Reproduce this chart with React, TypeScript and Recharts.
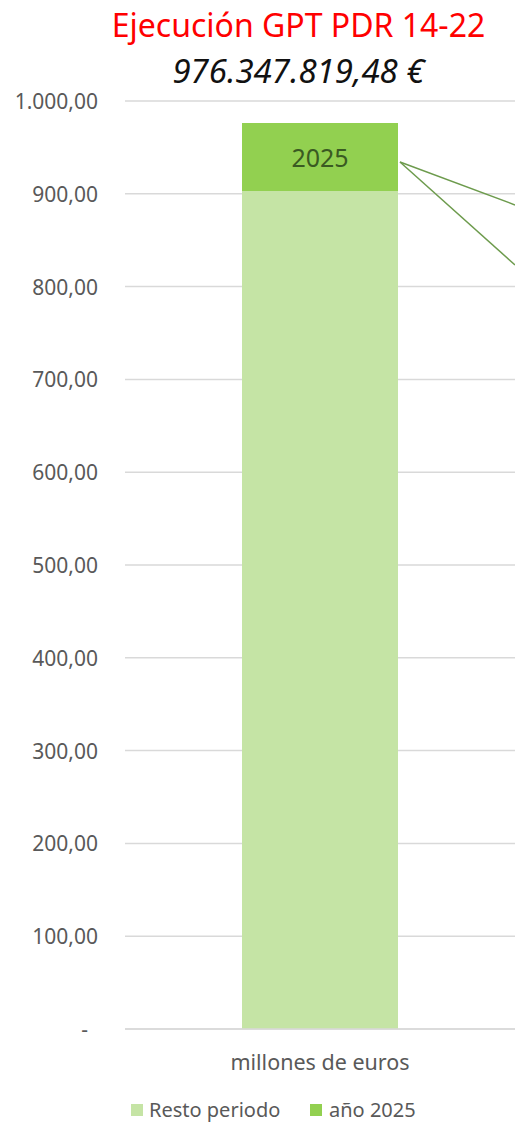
import React from "react";
import { BarChart, Bar, XAxis, YAxis, CartesianGrid, LabelList } from "recharts";

const categories = ["millones de euros"];
const restoPeriodo = [903.1];
const anio2025 = [73.25];
const yTicks = [0, 100, 200, 300, 400, 500, 600, 700, 800, 900, 1000];
const titulo = "Ejecución GPT PDR 14-22";
const total = "976.347.819,48 €";
const labelAnio = "2025";
const leyenda = ["Resto periodo", "año 2025"];

const FONT = "'Noto Sans', 'Open Sans', sans-serif";
const GRIS = "#595959";
const VERDE_CLARO = "#c5e4a5";
const VERDE = "#92d050";

const data = categories.map((c, i) => ({
  name: c,
  resto: restoPeriodo[i],
  anio: anio2025[i],
}));

const fmt = (v: number) => {
  if (v === 0) return "-";
  const [ent, dec] = v.toFixed(2).split(".");
  return ent.replace(/\B(?=(\d{3})+(?!\d))/g, ".") + "," + dec;
};

const YTick = (props: any) => {
  const { y, payload } = props;
  // el cero se muestra como "-" un poco más a la izquierda (formato contable)
  const x = payload.value === 0 ? 88 : 98;
  return (
    <text x={x} y={y} dy={8} textAnchor="end" fill={GRIS} fontSize={21} fontFamily={FONT}>
      {fmt(payload.value)}
    </text>
  );
};

const XTick = (props: any) => {
  const { x, y, payload } = props;
  return (
    <text x={x} y={y} dy={33} textAnchor="middle" fill={GRIS} fontSize={21.5} fontFamily={FONT}>
      {payload.value}
    </text>
  );
};

// etiqueta del segmento 2025 con las líneas guía hacia la derecha
const AnioLabel = (props: any) => {
  const { x, y, width, height } = props;
  const sx = x + width + 2;
  const sy = y + height / 2 + 5;
  return (
    <g>
      <text x={x + width / 2} y={y + height / 2} dy={10} textAnchor="middle" fill="#3a5a22" fontSize={25} fontFamily={FONT}>
        {labelAnio}
      </text>
      <line x1={sx} y1={sy} x2={sx + 115} y2={sy + 43} stroke="#6d9b4d" strokeWidth={1.5} />
      <line x1={sx} y1={sy} x2={sx + 115} y2={sy + 103} stroke="#6d9b4d" strokeWidth={1.5} />
    </g>
  );
};

export default function App() {
  return (
    <div style={{ position: "absolute", left: 0, top: 0, width: 515, height: 1122, background: "#fff", overflow: "hidden" }}>
      <div style={{ position: "absolute", top: 0, left: 0, width: 597, textAlign: "center", color: "#ff0000", fontFamily: FONT, fontSize: 32, lineHeight: "50px", whiteSpace: "nowrap" }}>
        {titulo}
      </div>
      <div style={{ position: "absolute", top: 46, left: 0, width: 597, textAlign: "center", color: "#111", fontFamily: FONT, fontSize: 33, fontStyle: "italic", lineHeight: "50px", whiteSpace: "nowrap" }}>
        {total}
      </div>
      <BarChart width={515} height={1122} data={data} margin={{ top: 101, right: 0, bottom: 0, left: 0 }} barSize={156}>
        <CartesianGrid vertical={false} stroke="#d9d9d9" strokeWidth={1.5} />
        <XAxis dataKey="name" tick={<XTick />} axisLine={{ stroke: "#d9d9d9", strokeWidth: 1.5 }} tickLine={false} height={93} />
        <YAxis width={125} domain={[0, 1000]} ticks={yTicks} interval={0} tick={<YTick />} axisLine={false} tickLine={false} />
        <Bar dataKey="resto" stackId="a" fill={VERDE_CLARO} isAnimationActive={false} />
        <Bar dataKey="anio" stackId="a" fill={VERDE} isAnimationActive={false}>
          <LabelList dataKey="anio" content={<AnioLabel />} />
        </Bar>
      </BarChart>
      <div style={{ position: "absolute", top: 1096, left: 131, display: "flex", fontFamily: FONT, fontSize: 20, color: GRIS, lineHeight: "28px", whiteSpace: "nowrap" }}>
        <span style={{ display: "flex", alignItems: "center", width: 179 }}>
          <span style={{ width: 12, height: 12, background: VERDE_CLARO, marginRight: 6 }} />
          {leyenda[0]}
        </span>
        <span style={{ display: "flex", alignItems: "center" }}>
          <span style={{ width: 12, height: 12, background: VERDE, marginRight: 7 }} />
          {leyenda[1]}
        </span>
      </div>
    </div>
  );
}
